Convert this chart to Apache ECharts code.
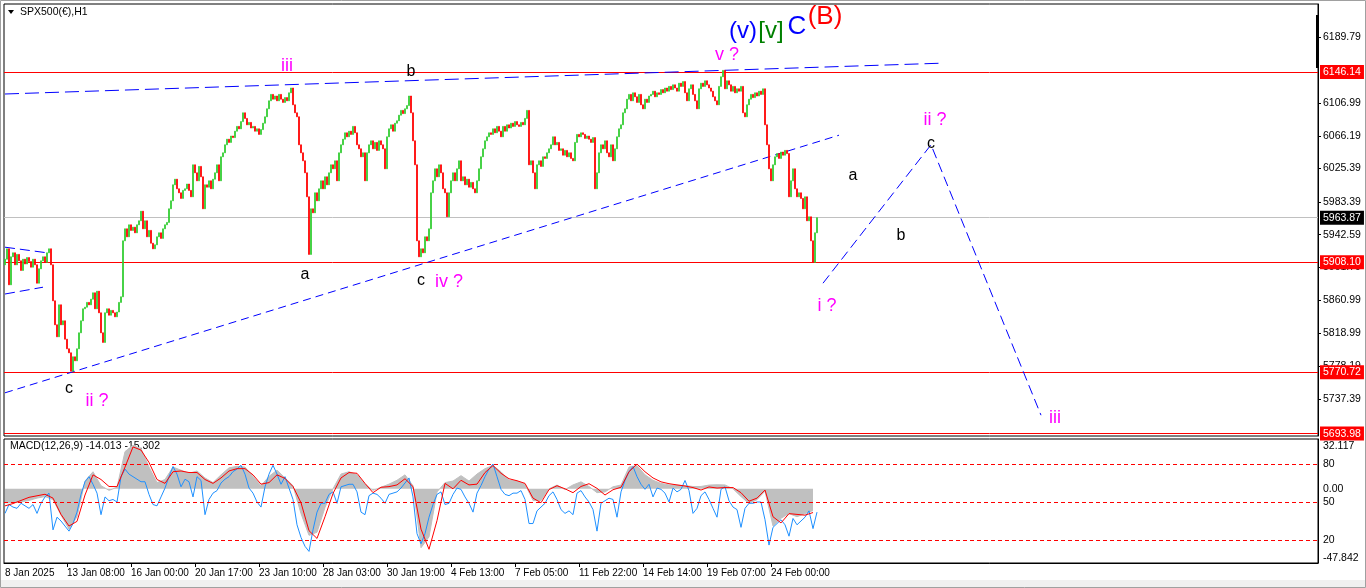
<!DOCTYPE html>
<html><head><meta charset="utf-8">
<script src="https://cdn.jsdelivr.net/npm/echarts@6/dist/echarts.min.js"></script>
<style>html,body{margin:0;padding:0;background:#fff;}#c{width:1366px;height:588px;}</style>
</head><body><div id="c"></div>
<script>
// ---------- data ----------
const firstOpen = 5905;
const closes = [
5912,5925,5880,5915,5920,5905,5918,5910,5898,5912,
5906,5914,5909,5902,5912,5905,5882,5900,5910,5915,
5908,5920,5925,5905,5860,5830,5815,5855,5830,5835,
5812,5800,5795,5772,5790,5785,5800,5820,5835,5850,
5852,5858,5855,5862,5870,5850,5872,5845,5820,5808,
5845,5850,5842,5848,5845,5840,5846,5858,5865,5935,
5950,5940,5955,5948,5952,5945,5955,5960,5972,5950,
5960,5940,5948,5932,5925,5930,5940,5945,5938,5950,
5955,5958,5975,5985,6005,6012,6000,5995,5988,5998,
6000,6006,5998,5990,6030,6020,6010,6028,6015,5975,
6005,6002,6010,6000,6012,6020,6030,6010,6040,6045,
6055,6062,6058,6066,6064,6072,6078,6075,6084,6095,
6088,6080,6083,6076,6078,6072,6075,6068,6074,6082,
6090,6100,6110,6118,6112,6116,6110,6118,6112,6108,
6114,6110,6120,6126,6105,6095,6090,6055,6045,6035,
6020,5990,5918,5975,5970,5995,5985,6000,6010,6000,
6015,6005,6020,6030,6025,6035,6010,6045,6055,6062,
6070,6065,6072,6068,6078,6070,6055,6050,6040,6045,
6010,6045,6055,6060,6050,6058,6048,6060,6055,6050,
6025,6065,6075,6080,6072,6082,6085,6092,6098,6094,
6100,6104,6116,6095,6060,6030,5935,5915,5925,5920,
5940,5935,5950,5995,6010,6025,6015,6030,6020,6000,
5995,5965,5995,6010,6020,6010,6025,6035,6010,6015,
6005,6012,6002,6008,6000,5995,6010,6025,6040,6050,
6060,6065,6070,6068,6075,6070,6078,6072,6065,6078,
6072,6080,6076,6082,6078,6084,6080,6078,6083,6080,
6088,6098,6030,6035,6020,6000,6030,6035,6028,6040,
6038,6045,6050,6055,6065,6055,6058,6048,6050,6042,
6048,6040,6045,6038,6035,6058,6068,6065,6070,6068,
6063,6066,6062,6058,6064,6000,6020,6045,6055,6050,
6060,6045,6040,6055,6035,6050,6065,6075,6080,6095,
6100,6112,6118,6110,6120,6115,6108,6118,6105,6100,
6112,6108,6116,6118,6122,6115,6120,6118,6124,6120,
6126,6122,6128,6124,6130,6126,6122,6132,6128,6134,
6120,6110,6125,6130,6118,6110,6100,6125,6132,6128,
6135,6130,6126,6122,6115,6110,6105,6128,6140,6148,
6125,6135,6130,6122,6128,6120,6125,6122,6128,6095,
6090,6105,6112,6118,6114,6120,6116,6122,6118,6125,
6080,6055,6025,6010,6030,6040,6044,6038,6046,6042,
6048,6044,5990,6010,6025,6000,5990,5995,5988,5975,
5990,5960,5965,5935,5908,5945,5963.87
];
const priceTicks = [6189.79,6106.99,6066.19,6025.39,5983.39,5942.59,5901.79,5860.99,5818.99,5778.19,5737.39];
const priceLevels = [6146.14,5908.10,5770.72,5693.98];
const lastPrice = 5963.87;
const timeLabels = ['8 Jan 2025','13 Jan 08:00','16 Jan 00:00','20 Jan 17:00','23 Jan 10:00','28 Jan 03:00','30 Jan 19:00','4 Feb 13:00','7 Feb 05:00','11 Feb 22:00','14 Feb 14:00','19 Feb 07:00','24 Feb 00:00'];
const timeLabelBar = [0,31,63,95,127,159,191,223,255,287,319,351,383];
// MACD main (histogram), one value every 4 bars
const macdHist = [
-9,-9,-8.5,-7.5,-6,-5,-7,-17,-26,-18,
5,11,2,-1,1,24,28,26,14,4,
6,14,12,10,11.5,7,4,9,13.5,14.5,
14,8,2,8,12,7,2,-16,-30,-28,
-12,0,9.5,11,9,3,-1,1,3,5.5,
9,2,-38,-31,-2,4,5,8.5,5,9.5,
13,15,11,5.5,5,3,-7.5,-7.5,0,2.4,
-0.5,2.5,4.5,1.5,-2.5,-2,1.3,2.4,14,15,
9,5.5,3.5,2.5,2.4,2,1.5,1.5,2.4,2.6,
2.5,0,-5,-9.5,-7,-1.5,-24,-19,-16,-18,
-16,-14.013
];
// MACD signal, one value every 4 bars
const macdSignal = [
-11,-9.5,-7.5,-5.5,-4.5,-3.5,-6,-16.5,-24,-21,
-4,9,6,1.5,1.4,14,27,25,17,6,
3.5,11,11.5,10.5,10.5,6,3.5,7,11.5,13,
13,9,3,4,9,6.7,1.5,-9,-27,-32,
-18,-3,7,10.5,10,3.5,-2.5,1,1.4,2.5,
6.5,1.4,-26,-39,-20.5,3.5,0,5.5,2.5,3,
10.5,15,10,6.5,5.2,3.5,-6,-9,-0.5,2,
0,-2.5,1.5,3.3,0.3,-4,-0.6,1,11,16,
11,7,4.5,3.3,2.5,1.8,0.8,-0.8,1.2,0.5,
0.8,0.8,-2.5,-8,-6,-0.8,-18,-22,-16,-16.5,
-17,-15.302
];
// overlaid oscillator (0-100), one value every 2 bars
const oscLine = [
41,48,46,45,49,47,45,48,41,49,
54,57,28,38,35,31,27,33,42,56,
66,70,64,57,40,54,51,52,50,70,
76,72,70,68,66,66,56,48,47,54,
61,70,78,72,62,68,66,54,70,67,
40,52,57,59,65,68,70,74,76,79,
72,61,57,50,46,62,72,79,72,64,
70,61,52,32,22,15,11,28,42,49,
49,56,58,49,62,63,64,64,58,42,
40,55,57,56,53,49,56,57,58,61,
65,69,54,25,17,25,38,48,56,58,
48,49,56,61,60,54,49,42,57,63,
70,76,80,70,60,56,55,57,57,59,
52,33,33,43,46,49,55,58,52,44,
41,43,40,57,59,54,50,44,27,49,
51,53,52,38,58,67,74,78,70,64,
60,64,54,61,60,57,50,61,58,60,
67,59,41,45,55,58,52,45,38,60,
62,51,46,44,30,45,49,49,50,50,
36,16,30,33,36,32,23,37,32,35,
38,43,29,42
];
const macdAxisLabels = ['32.117','0.00','-47.842'];
const oscLevels = [80,50,20];
// annotations: text, bar index, price, color, font size
const annotations = [
['iii',141,6153,'#FF00FF',18],
['b',203,6146,'#000000',16],
['a',150,5893,'#000000',16],
['c',208,5885,'#000000',16],
['iv ?',222,5883,'#FF00FF',18],
['c',32,5750,'#000000',16],
['ii ?',46,5735,'#FF00FF',18],
['v ?',361,6167,'#FF00FF',18],
['(v)',369,6197,'#0000FF',24],
['[v]',383,6197,'#008000',24],
['C',396,6203,'#0000FF',26],
['(B)',410,6215,'#FF0000',26],
['a',424,6017,'#000000',16],
['b',448,5942,'#000000',16],
['ii ?',465,6086,'#FF00FF',18],
['c',463,6057,'#000000',16],
['i ?',411,5853,'#FF00FF',18],
['iii',525,5713,'#FF00FF',18]
];
// trend lines: points as [bar index, price]
const upperLine = [[0,6118.5],[468,6157]];
const lowerLine = [[0,5745],[417,6067]];
const boxTop = [[0,5927],[21,5920]];
const boxBottom = [[0,5868.5],[19,5877]];
const projection = [[409,5882],[463,6055],[518,5717]];

// ---------- chart ----------
const N = 657;
const FONT = 'Liberation Sans';
const cats = Array.from({length:N},(_,i)=>String(i));
const labelMap = {};
timeLabelBar.forEach((ix,n)=>{labelMap[ix]=timeLabels[n];});
const candles = closes.map((c,i)=>{const o=i===0?firstOpen:closes[i-1];return [o,c,Math.min(o,c),Math.max(o,c)];});

const tag = (bg)=>({show:true,position:'end',distance:2,formatter:p=>Number(p.value).toFixed(2),color:'#fff',backgroundColor:bg,padding:[2,3,1,3],fontSize:10.5,fontFamily:FONT,lineHeight:11});

const dashLine = (data,dash)=>({type:'line',xAxisIndex:0,yAxisIndex:0,data:data,symbol:'none',silent:true,z:3,
  lineStyle:{color:'#0000FF',width:1,type:dash},animation:false});

const chart = echarts.init(document.getElementById('c'),null,{renderer:'canvas'});
chart.setOption({
  animation:false,
  backgroundColor:'#ffffff',
  textStyle:{fontFamily:FONT},
  grid:[
    {left:4,top:4,width:1314,height:432,show:true,borderColor:'#000',borderWidth:1,backgroundColor:'#fff'},
    {left:4,top:439,width:1314,height:124,show:true,borderColor:'#000',borderWidth:1,backgroundColor:'#fff'}
  ],
  xAxis:[
    {type:'category',gridIndex:0,data:cats,show:false,boundaryGap:true},
    {type:'category',gridIndex:1,data:cats,boundaryGap:true,
     axisLine:{show:true,onZero:false,lineStyle:{color:'#000'}},
     axisTick:{show:true,alignWithLabel:true,length:4,interval:(i)=>labelMap[i]!==undefined && i>0,lineStyle:{color:'#000'}},
     axisLabel:{show:true,interval:(i)=>labelMap[i]!==undefined,formatter:(v,i)=>labelMap[i]||'',align:'left',margin:5,color:'#000',fontSize:10,fontFamily:FONT},
     splitLine:{show:false}}
  ],
  yAxis:[
    {type:'value',gridIndex:0,position:'right',min:5691,max:6231,
     axisLine:{show:true,lineStyle:{color:'#000'}},
     axisTick:{show:true,length:3,customValues:priceTicks,lineStyle:{color:'#000'}},
     axisLabel:{show:true,customValues:priceTicks,formatter:v=>v.toFixed(2),margin:5,color:'#000',fontSize:10.5,fontFamily:FONT},
     splitLine:{show:false}},
    {type:'value',gridIndex:1,position:'right',offset:0,min:-47.842,max:32.117,
     axisLine:{show:true,lineStyle:{color:'#000'}},
     axisTick:{show:false},
     axisLabel:{show:true,customValues:[27.6,0,-44.6],formatter:v=>v>10?macdAxisLabels[0]:(v<-10?macdAxisLabels[2]:macdAxisLabels[1]),margin:5,color:'#000',fontSize:10.5,fontFamily:FONT},
     splitLine:{show:false}},
    {type:'value',gridIndex:1,position:'right',offset:0,min:1.84,max:99.74,
     axisLine:{show:false},axisTick:{show:false},
     axisLabel:{show:true,customValues:oscLevels,margin:5,color:'#000',fontSize:10.5,fontFamily:FONT},
     splitLine:{show:false}}
  ],
  series:[
    {type:'candlestick',xAxisIndex:0,yAxisIndex:0,data:candles,barWidth:2,z:4,
     itemStyle:{color:'#32CD32',color0:'#FF0000',borderColor:'#32CD32',borderColor0:'#FF0000',borderWidth:0.8},
     markLine:{symbol:'none',silent:true,animation:false,z:2,
       data:[
         ...priceLevels.map(v=>({yAxis:v,lineStyle:{color:'#FF0000',width:1,type:'solid'},label:tag('#FF0000')})),
         {yAxis:lastPrice,lineStyle:{color:'#C0C0C0',width:1,type:'solid'},label:tag('#000000')}
       ]}},
    dashLine(upperLine,[14,6]),
    dashLine(lowerLine,[8,5]),
    dashLine(boxTop,[10,5]),
    dashLine(boxBottom,[10,5]),
    dashLine(projection,[10,5]),
    {type:'scatter',xAxisIndex:0,yAxisIndex:0,symbolSize:1,itemStyle:{color:'rgba(0,0,0,0)',opacity:1},silent:true,z:6,
     data:annotations.map(a=>({value:[a[1],a[2]],label:{show:true,position:'inside',formatter:a[0],color:a[3],opacity:1,fontSize:a[4],fontFamily:FONT}}))},
    {type:'line',xAxisIndex:1,yAxisIndex:1,data:macdHist.map((v,j)=>[4*j,v]),symbol:'none',silent:true,z:2,
     lineStyle:{color:'#C0C0C0',width:1},areaStyle:{color:'#C0C0C0',opacity:1}},
    {type:'line',xAxisIndex:1,yAxisIndex:2,data:oscLine.map((v,k)=>[2*k,v]),symbol:'none',silent:true,z:4,
     lineStyle:{color:'#1E90FF',width:1},
     markLine:{symbol:'none',silent:true,animation:false,label:{show:false},
       lineStyle:{color:'#FF0000',width:1,type:[4,3]},
       data:oscLevels.map(v=>({yAxis:v}))}},
    {type:'line',xAxisIndex:1,yAxisIndex:1,data:macdSignal.map((v,j)=>[4*j,v]),symbol:'none',silent:true,z:5,
     lineStyle:{color:'#FF0000',width:1}}
  ],
  graphic:[
    {type:'rect',shape:{x:0.5,y:0.5,width:1365,height:587},style:{fill:'none',stroke:'#A0A0A0',lineWidth:1},silent:true},
    {type:'rect',shape:{x:1,y:580,width:1364,height:7},style:{fill:'#F0F0F0'},silent:true},
    {type:'polygon',shape:{points:[[8,10],[14,10],[11,14]]},style:{fill:'#000'},silent:true},
    {type:'text',x:20,y:7,style:{text:'SPX500(€),H1',font:'10.5px "Liberation Sans"',fill:'#000'},silent:true},
    {type:'text',x:10,y:441,style:{text:'MACD(12,26,9) -14.013 -15.302',font:'10.5px "Liberation Sans"',fill:'#000'},silent:true},
    {type:'rect',shape:{x:1316,y:15,width:3,height:53},style:{fill:'#000'},silent:true}
  ]
});
</script></body></html>
